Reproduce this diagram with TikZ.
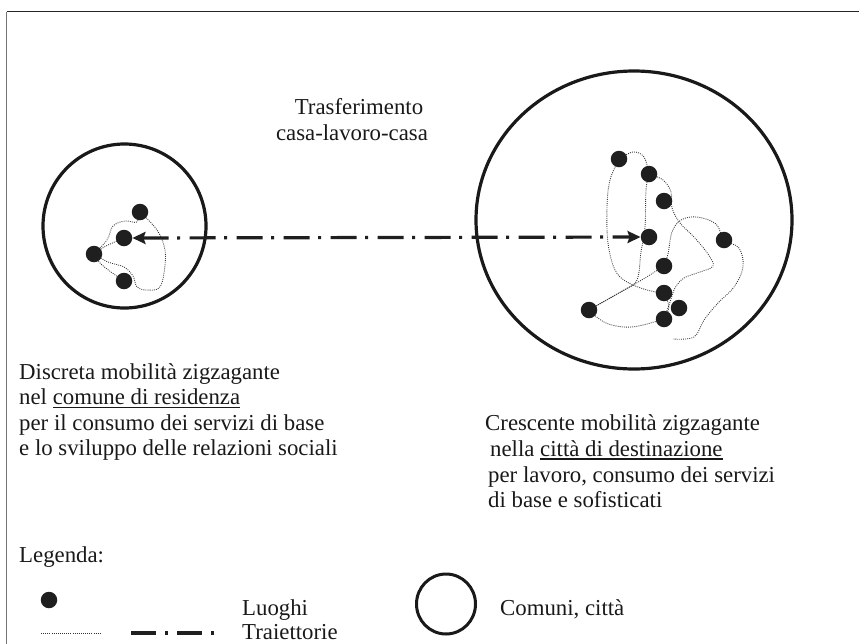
\documentclass[tikz,border=0pt]{standalone}
\usepackage{fontspec}
\setmainfont{Liberation Serif}
\usetikzlibrary{arrows.meta,shapes.geometric,backgrounds}
% underline with a fixed depth and thickness
\newcommand\ulined[1]{\setbox0\hbox{#1}\rlap{\rule[-3.5pt]{\wd0}{1.1pt}}\box0}
\begin{document}
\begin{tikzpicture}[x=1pt,y=-1pt,
  >={Stealth[length=13pt,width=12pt,inset=2pt]},
  txt/.style={font=\fontsize{22.8}{26}\selectfont, inner sep=0pt, anchor=base west, text=black!90},
  dot/.style={circle, fill=black!88, draw=none, inner sep=0pt, minimum size=16.5pt},
  ring/.style={ellipse, draw=black!90, line width=3.2pt, inner sep=0pt},
  traj/.style={draw=black!80, line width=0.85pt, dash pattern=on 0.9pt off 1.2pt},
  link/.style={line width=3.2pt, draw=black!88, dash pattern=on 26pt off 8.5pt on 3pt off 9.5pt},
  legdash/.style={line width=3.2pt, draw=black!88, dash pattern=on 25pt off 9pt on 3pt off 9pt}]
\useasboundingbox (0,0) rectangle (859,643);

% frame
\draw[draw=black!55, line width=1pt] (6.6,660) -- (6.6,11.5);
\draw[draw=black!85, line width=1.3pt] (6.6,11.5) -- (880,11.5);

% municipalities
\node[ring, minimum width=163pt, minimum height=164pt] (lc) at (124.5,226) {};
\node[ring, minimum width=316pt, minimum height=298pt] (rc) at (634,220) {};

% places, home municipality
\node[dot] (l1) at (140,212) {};
\node[dot] (l2) at (124,238) {};
\node[dot] (l3) at (94,254) {};
\node[dot] (l4) at (124,281) {};

% places, destination city
\node[dot] (r1) at (619,159) {};
\node[dot] (r2) at (649,174) {};
\node[dot] (r3) at (664,201) {};
\node[dot] (r4) at (649,237) {};
\node[dot] (r5) at (724,240) {};
\node[dot] (r6) at (664,266) {};
\node[dot] (r7) at (664,293) {};
\node[dot] (r8) at (679,308) {};
\node[dot] (r9) at (664,319) {};
\node[dot] (r10) at (589,310) {};

% zigzag trajectories
\begin{scope}[on background layer]
  \draw[traj] plot[smooth, tension=0.6] coordinates {(l3) (107,240) (113,226) (125,221) (137,222) (l1)};
  \draw[traj] plot[smooth, tension=0.6] coordinates {(l3) (106,246) (l2)};
  \draw[traj] plot[smooth, tension=0.6] coordinates {(l1) (157,230) (165,250) (164,273) (159,288) (146,290) (137,287) (133,276) (124,267) (108,262) (l3)};
  \draw[traj] plot[smooth, tension=0.6] coordinates {(l3) (100,263) (111,272) (l4)};

  \draw[traj] plot[smooth, tension=0.6] coordinates {(r1) (633,152) (644,157) (r2)};
  \draw[traj] plot[smooth, tension=0.6] coordinates {(r1) (610,180) (607,207) (608,243) (615,270) (627,282) (647,290) (r7)};
  \draw[traj] plot[smooth, tension=0.6] coordinates {(r2) (646,190) (645,227) (641,252) (637,280) (624,290) (603,302) (r10)};
  \draw[traj] plot[smooth, tension=0.6] coordinates {(r10) (610,298) (640,281) (r6)};
  \draw[traj] plot[smooth, tension=0.6] coordinates {(r10) (606,323) (632,327) (r9)};
  \draw[traj] plot[smooth, tension=0.6] coordinates {(r2) (663,180) (671,192) (672,208) (680,223) (694,237) (708,254) (713,266) (700,272) (684,278) (675,288) (670,302) (r9)};
  \draw[traj] plot[smooth, tension=0.6] coordinates {(r6) (668,254) (672,232) (681,220) (697,217) (716,224) (r5) (739,248) (743,267) (734,287) (718,303) (704,320) (694,337) (673,339)};
  \draw[traj] plot[smooth, tension=0.6] coordinates {(r7) (669,307) (r9)};
\end{scope}

% home-work-home commute
\draw[link, <->] (l2) -- (r4);

% labels
\node[txt, anchor=base] (tt1) at (359,114) {Trasferimento};
\node[txt, anchor=base] (tt2) at (352,140) {casa-lavoro-casa};

\node[txt] (la1) at (19,379) {Discreta mobilità zigzagante};
\node[txt] (la2) at (19,404.5) {nel \ulined{comune di residenza}};
\node[txt] (la3) at (19,430) {per il consumo dei servizi di base};
\node[txt] (la4) at (19,455.5) {e lo sviluppo delle relazioni sociali};

\node[txt] (ra1) at (485,430) {Crescente mobilità zigzagante};
\node[txt] (ra2) at (490,456) {nella \ulined{città di destinazione}};
\node[txt] (ra3) at (488,482) {per lavoro, consumo dei servizi};
\node[txt] (ra4) at (488,507) {di base e sofisticati};

% legend
\node[txt] (leg) at (19,562) {Legenda:};
\node[dot] (kdot) at (49,600) {};
\node[txt] (kd) at (242,615) {Luoghi};
\coordinate (kt1) at (41,633);
\coordinate (kt2) at (101,633);
\draw[traj] (kt1) -- (kt2);
\coordinate (kc1) at (131,633);
\coordinate (kc2) at (214,633);
\draw[legdash] (kc1) -- (kc2);
\node[txt] (kt) at (242,639) {Traiettorie};
\node[ring, line width=3pt, minimum width=59pt, minimum height=60pt] (kring) at (446,604) {};
\node[txt] (kr) at (500,615) {Comuni, città};
\end{tikzpicture}
\end{document}
